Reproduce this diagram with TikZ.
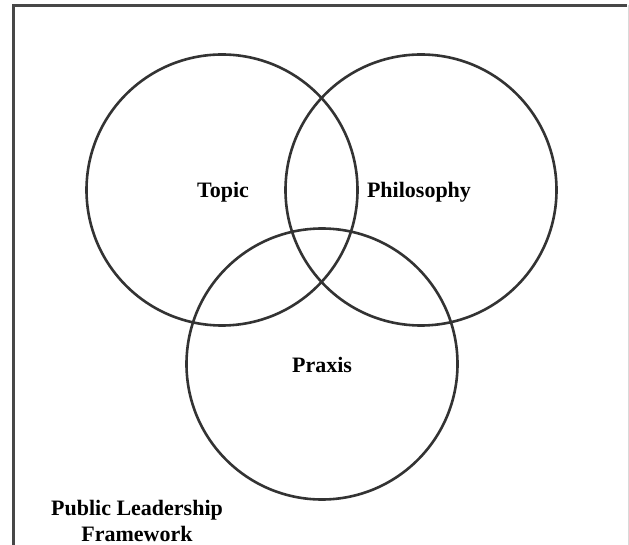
\documentclass[tikz,border=0pt]{standalone}
\usepackage{fontspec}
\setmainfont{Liberation Serif}
\begin{document}
\begin{tikzpicture}[x=1pt,y=-1pt,
  ring/.style={draw=black!80, line width=2.6pt},
  lbl/.style={font=\bfseries\fontsize{22}{25.5}\selectfont, text=black, align=center}]
\useasboundingbox (0,0) rectangle (629,545);
\fill[white] (0,0) rectangle (629,545);
\draw[black!72, line width=3pt] (13.5,545) -- (13.5,5.5) -- (627,5.5);
\draw[black!15, line width=1pt] (628,5.5) -- (628,545);
\node[ring, circle, minimum size=271pt, inner sep=0pt] (topic) at (222,190) {};
\node[ring, circle, minimum size=271pt, inner sep=0pt] (philo) at (421,190) {};
\node[ring, circle, minimum size=271pt, inner sep=0pt] (praxis) at (322,364) {};
\node[lbl] (t1) at (223,192) {Topic};
\node[lbl] (t2) at (419,192) {Philosophy};
\node[lbl] (t3) at (322,365) {Praxis};
\node[lbl] (t4) at (137,521) {Public Leadership\\Framework};
\end{tikzpicture}
\end{document}
